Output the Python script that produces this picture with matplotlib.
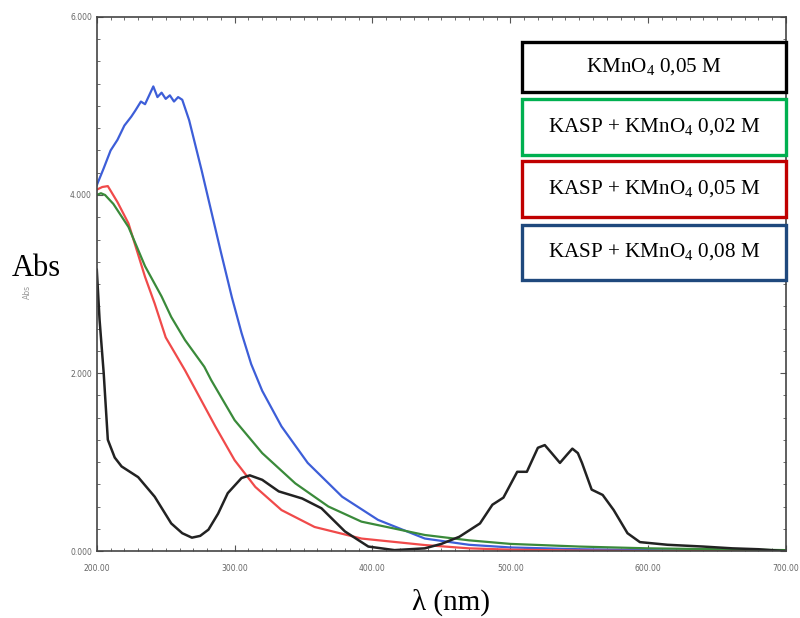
import matplotlib
matplotlib.use("Agg")
import matplotlib.pyplot as plt
from matplotlib.patches import Rectangle
from matplotlib.ticker import MultipleLocator, FormatStrFormatter

plt.rcParams['mathtext.fontset'] = 'custom'
plt.rcParams['mathtext.rm'] = 'Liberation Serif'

# spectra (wavelength nm, absorbance)
wl_blue = [200, 205, 210, 215, 220, 225, 228, 232, 235, 238, 241, 244, 247, 250, 253, 256, 259, 262,
           267, 276, 290, 298, 305, 312, 320, 334, 353, 378, 404, 438, 470, 500, 550, 600, 650, 700]
abs_blue = [4.11, 4.3, 4.5, 4.62, 4.78, 4.88, 4.95, 5.05, 5.02, 5.12, 5.22, 5.1, 5.15, 5.08, 5.12, 5.05, 5.1, 5.07,
            4.84, 4.28, 3.36, 2.85, 2.45, 2.1, 1.8, 1.4, 0.99, 0.61, 0.35, 0.14, 0.07, 0.04, 0.02, 0.01, 0.0, 0.0]

wl_red = [200, 204, 208, 215, 223, 235, 242, 250, 264, 271, 286, 300, 315, 334, 358, 392, 438, 470, 500, 550, 600, 700]
abs_red = [4.06, 4.09, 4.1, 3.92, 3.68, 3.08, 2.78, 2.4, 2.03, 1.83, 1.4, 1.02, 0.72, 0.46, 0.27, 0.14, 0.067, 0.03,
           0.015, 0.005, 0.0, 0.0]

wl_green = [200, 203, 206, 212, 223, 235, 247, 254, 264, 278, 283, 300, 320, 344, 368, 392, 438, 470, 500, 550, 600, 650, 700]
abs_green = [4.0, 4.02, 4.0, 3.9, 3.64, 3.2, 2.86, 2.63, 2.37, 2.07, 1.92, 1.47, 1.1, 0.76, 0.5, 0.33, 0.18, 0.12,
             0.08, 0.05, 0.03, 0.02, 0.01]

wl_black = [200, 202, 205, 208, 213, 218, 230, 242, 254, 262, 269, 275, 281, 288, 295, 305, 311, 320, 332, 349,
            363, 380, 397, 416, 438, 450, 463, 478, 487, 495, 505, 512, 520, 525, 530, 536, 541, 545, 549, 552,
            559, 567, 575, 585, 594, 614, 640, 661, 680, 698, 700]
abs_black = [3.16, 2.6, 2.0, 1.25, 1.05, 0.95, 0.83, 0.61, 0.31, 0.2, 0.15, 0.17, 0.24, 0.42, 0.65, 0.82, 0.85, 0.8,
             0.67, 0.59, 0.48, 0.22, 0.05, 0.01, 0.03, 0.08, 0.16, 0.31, 0.52, 0.6, 0.89, 0.89, 1.16, 1.19, 1.1,
             0.99, 1.08, 1.15, 1.1, 0.99, 0.69, 0.63, 0.46, 0.2, 0.1, 0.07, 0.05, 0.03, 0.02, 0.0, 0.0]

legend_labels = [r"KMnO$_4$ 0,05 M", r"KASP + KMnO$_4$ 0,02 M",
                 r"KASP + KMnO$_4$ 0,05 M", r"KASP + KMnO$_4$ 0,08 M"]
legend_edges = ["#000000", "#00b050", "#c00000", "#1f497d"]

fig = plt.figure(figsize=(8, 6.18), dpi=100)
ax = fig.add_axes([0.121, 0.1084, 0.8615, 0.8641])

ax.plot(wl_blue, abs_blue, color="#3d5ed8", lw=1.6)
ax.plot(wl_red, abs_red, color="#f04a4a", lw=1.6)
ax.plot(wl_green, abs_green, color="#3a8a3a", lw=1.6)
ax.plot(wl_black, abs_black, color="#222222", lw=1.8)

ax.set_xlim(200, 700)
ax.set_ylim(0, 6)
ax.xaxis.set_major_locator(MultipleLocator(100))
ax.xaxis.set_minor_locator(MultipleLocator(10))
ax.yaxis.set_major_locator(MultipleLocator(2))
ax.yaxis.set_minor_locator(MultipleLocator(0.25))
ax.xaxis.set_major_formatter(FormatStrFormatter("%.2f"))
ax.yaxis.set_major_formatter(FormatStrFormatter("%.3f"))
ax.tick_params(which="both", direction="in", top=True, right=True, colors="#555555",
               labelsize=5.5, labelcolor="#666666")
ax.tick_params(axis="x", which="major", pad=9)
ax.tick_params(which="major", length=4)
ax.tick_params(which="minor", length=2)
for s in ax.spines.values():
    s.set_color("#444444")
    s.set_linewidth(1.2)

# faint original axis label, then the overlaid one
fig.text(0.034, 0.528, "Abs", rotation=90, fontsize=5.5, color="#999999", ha="center", va="center")
fig.text(0.015, 0.566, "Abs", fontsize=22, family="Liberation Serif", ha="left", va="center")
fig.text(0.564, 0.003, "λ (nm)", fontsize=21, family="Liberation Serif", ha="center", va="bottom")

# legend boxes
box_y = [0.851, 0.749, 0.649, 0.547]
box_h = [0.081, 0.0906, 0.0906, 0.089]
for lab, ec, y0, h in zip(legend_labels, legend_edges, box_y, box_h):
    fig.patches.append(Rectangle((0.652, y0), 0.331, h, transform=fig.transFigure,
                                 facecolor="white", edgecolor=ec, lw=2.4, zorder=5))
    fig.text(0.652 + 0.331 / 2, y0 + h / 2, lab, fontsize=15.2, family="Liberation Serif",
             ha="center", va="center", zorder=6)

fig.savefig("out.png", dpi=100)
